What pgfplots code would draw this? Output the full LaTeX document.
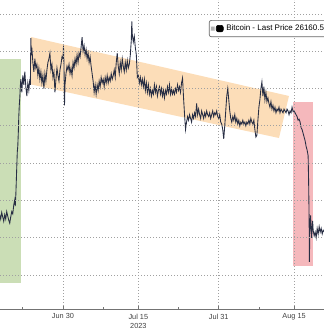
\documentclass[border=0pt]{standalone}
\usepackage{pgfplots}
\pgfplotsset{compat=1.18}
\usepackage{pgfplotstable}
\usepackage{fontspec}
\setmainfont{Liberation Sans}

\definecolor{gfill}{RGB}{203,222,182}
\definecolor{ofill}{RGB}{252,221,184}
\definecolor{rfill}{RGB}{245,184,188}
\definecolor{pline}{RGB}{40,46,68}
\definecolor{gridc}{RGB}{160,160,160}

\pgfplotstableread{
d p
-12.6 26620
-12.4 26500
-12.2 26680
-12.0 26560
-11.8 26440
-11.6 26620
-11.4 26500
-11.2 26700
-11.0 26580
-10.8 26470
-10.6 26390
-10.4 26560
-10.2 26700
-10.0 26640
-9.8 26880
-9.6 27020
-9.5 26850
-9.4 27100
-9.3 27500
-9.2 27900
-9.1 28300
-9.0 28450
-8.9 28800
-8.8 29250
-8.7 29550
-8.6 29750
-8.5 30050
-8.4 30250
-8.2 29900
-8.0 30350
-7.8 30100
-7.6 30450
-7.4 30050
-7.2 29800
-7.0 30150
-6.8 29950
-6.6 30250
-6.5 30100
-6.4 31350
-6.3 30900
-6.2 31100
-6.0 30700
-5.8 30450
-5.6 30800
-5.4 30550
-5.2 30650
-5.0 30350
-4.8 30550
-4.6 30250
-4.4 30450
-4.2 30150
-4.0 30350
-3.8 30000
-3.6 30400
-3.4 30200
-3.2 30500
-3.0 30700
-2.8 30800
-2.6 30950
-2.4 30500
-2.2 30650
-2.0 30300
-1.8 30450
-1.6 29900
-1.4 30250
-1.2 30550
-1.0 30350
-0.8 30200
-0.6 30500
-0.4 30650
-0.2 30850
0.0 30800
0.1 31150
0.2 30600
0.3 29550
0.4 30100
0.6 30400
0.8 30600
1.0 30500
1.2 30650
1.4 30400
1.6 30550
1.8 30350
2.0 30700
2.2 30550
2.4 30800
2.6 30650
2.8 30900
3.0 30700
3.2 30950
3.4 30850
3.6 31100
3.8 31380
4.0 31000
4.2 31150
4.4 30900
4.6 31050
4.8 30800
5.0 30950
5.2 30700
5.4 30850
5.6 30600
5.8 30400
6.0 30200
6.2 29900
6.4 30100
6.6 29850
6.8 30100
7.0 29950
7.2 30200
7.4 30050
7.6 30300
7.8 30150
8.0 30250
8.2 30050
8.4 30300
8.6 30150
8.8 30350
9.0 30150
9.2 30300
9.4 30200
9.6 30400
9.8 30250
10.0 30350
10.2 30500
10.4 30300
10.6 30700
10.8 30950
11.0 30600
11.2 30400
11.4 30700
11.6 30500
11.8 30800
12.0 30600
12.2 30450
12.4 30700
12.6 30500
12.8 30750
13.0 30550
13.2 30650
13.4 30900
13.6 31300
13.7 31800
13.8 31450
14.0 31250
14.2 31400
14.4 31100
14.6 30900
14.8 30300
15.0 30350
15.2 30150
15.4 30300
15.6 30100
15.8 30250
16.0 30050
16.2 30250
16.4 29950
16.6 30150
16.8 29900
17.0 30100
17.2 29850
17.4 30000
17.6 29800
17.8 29950
18.0 29850
18.2 30100
18.4 29900
18.6 30050
18.8 29800
19.0 29950
19.2 30050
19.4 29850
19.6 30000
19.8 29800
20.0 29950
20.2 29750
20.4 29950
20.6 29850
20.8 30050
21.0 29900
21.2 30100
21.4 29850
21.6 30000
21.8 29850
22.0 29950
22.2 29850
22.4 30000
22.6 29900
22.8 30100
23.0 29950
23.2 30050
23.4 29900
23.6 30150
23.8 30280
24.0 29750
24.2 29300
24.4 28900
24.6 29100
24.8 29250
25.0 29150
25.2 29300
25.4 29200
25.6 29100
25.8 29300
26.0 29200
26.2 29350
26.4 29250
26.6 29600
26.8 29300
27.0 29450
27.2 29300
27.4 29200
27.6 29400
27.8 29300
28.0 29200
28.2 29350
28.4 29250
28.6 29400
28.8 29300
29.0 29250
29.2 29350
29.4 29200
29.6 29300
29.8 29400
30.0 29250
30.2 29350
30.4 29300
30.6 29400
30.8 29250
31.0 29200
31.2 29300
31.4 29100
31.6 29050
31.8 28900
32.0 28650
32.2 29000
32.4 29400
32.6 29800
32.8 30000
33.0 29700
33.2 29400
33.4 29200
33.6 29100
33.8 29250
34.0 29150
34.2 29300
34.4 29100
34.6 29200
34.8 29050
35.0 29150
35.2 29000
35.4 29100
35.6 29050
35.8 29150
36.0 29050
36.2 29100
36.4 29000
36.6 29100
36.8 29050
37.0 29150
37.2 29050
37.4 29200
37.6 29100
37.8 29050
38.0 29150
38.2 28900
38.4 28700
38.6 28750
38.8 29150
39.0 29500
39.2 29700
39.4 30000
39.6 30180
39.8 29800
40.0 30050
40.2 29700
40.4 29900
40.6 29650
40.8 29750
41.0 29600
41.2 29500
41.4 29650
41.6 29450
41.8 29550
42.0 29400
42.2 29500
42.4 29350
42.6 29450
42.8 29400
43.0 29500
43.2 29350
43.4 29450
43.6 29400
43.8 29350
44.0 29450
44.2 29400
44.4 29350
44.6 29450
44.8 29400
45.0 29300
45.2 29400
45.4 29350
45.6 29500
45.8 29380
46.0 29400
46.2 29350
46.4 29300
46.6 29250
46.8 29150
47.0 29180
47.2 29100
47.4 28950
47.6 28900
47.8 28800
48.0 28700
48.2 28600
48.4 28450
48.6 28350
48.8 28200
48.9 27500
49.0 26500
49.05 25350
49.15 26300
49.3 26600
49.4 26250
49.5 26000
49.6 26300
49.7 26450
49.8 26200
50.0 26050
50.2 26150
50.4 26000
50.6 26250
50.8 26100
51.0 26300
51.2 26150
51.4 26250
51.6 26100
51.8 26200
52.0 26160
}\btc

\begin{document}
\begin{tikzpicture}
\begin{scope}
\clip (0pt,-14.25pt) rectangle (243pt,231.75pt);
\begin{axis}[
  at={(0pt,0pt)}, anchor=south west,
  scale only axis, width=243pt, height=231.75pt,
  xmin=-12.54, xmax=51.96, ymin=24089, ymax=32375,
  axis on top,
  axis x line*=bottom, axis y line*=left,
  y axis line style={draw=none},
  x axis line style={draw=black!55, line width=0.6pt},
  ytick={25000,26000,...,32000}, yticklabels={}, scaled y ticks=false,
  ytick style={draw=none},
  xtick={0,15,31,46},
  xticklabels={Jun 30,{Jul 15\\2023},Jul 31,Aug 15},
  minor xtick={-8,8,23,39},
  xticklabel style={align=center, font=\fontsize{5.5}{6.75}\selectfont, text=black!75},
  tick align=inside, major tick length=2pt, minor tick length=1.6pt,
  x tick style={black!55, line width=0.5pt},
  xmajorgrids, ymajorgrids,
  grid style={gridc, line width=0.55pt, dash pattern=on 0.6pt off 1.65pt},
  legend style={at={(rel axis cs:0.645,0.935)}, anchor=north west,
    draw=black!60, rounded corners=1.5pt, fill=white, line width=0.5pt,
    font=\fontsize{6.0}{7}\selectfont, inner xsep=1.2pt, inner ysep=1.2pt},
  legend cell align=left,
]
\addplot[fill=gfill, draw=none, forget plot]
  coordinates {(-13,24785) (-8.42,24785) (-8.42,30793) (-13,30793)} --cycle;
\addplot[fill=ofill, draw=none, forget plot]
  coordinates {(-6.37,31383) (44.99,29801) (43.0,28674) (-6.37,30110)} --cycle;
\addplot[fill=rfill, draw=none, forget plot]
  coordinates {(45.79,25241) (49.77,25241) (49.77,29640) (45.79,29640)} --cycle;
\addplot[pline, line width=0.65pt, forget plot] table[x=d, y=p] {\btc};
\addlegendimage{legend image code/.code={
  \fill[black!30] (0pt,-1.2pt) rectangle (2.2pt,1.2pt);
  \fill[black] (3.8pt,-2.4pt) rectangle (9.0pt,2.4pt);}}
\addlegendentry{Bitcoin - Last Price 26160.52}
\end{axis}
\end{scope}
\pgfresetboundingbox
\useasboundingbox (0pt,-14.25pt) rectangle (243pt,231.75pt);
\end{tikzpicture}
\end{document}
